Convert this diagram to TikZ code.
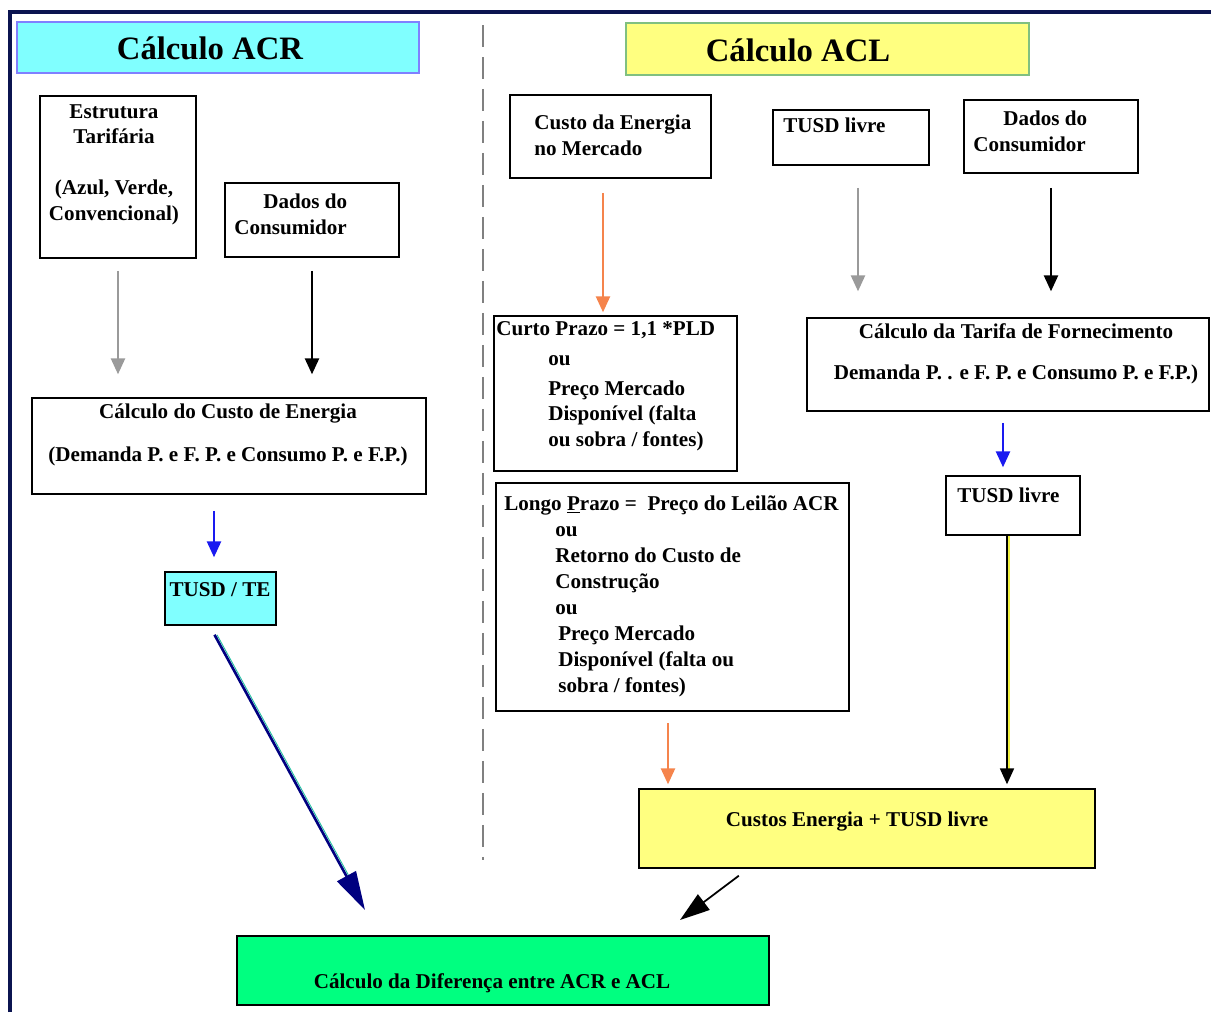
\documentclass[tikz,border=0pt]{standalone}
\usepackage{fontspec}
\setmainfont{Liberation Serif}
\usepackage{tikz}
\usetikzlibrary{
    arrows.meta,
    calc,
    fit
}
\newlength{\pxu}
\setlength{\pxu}{0.02cm}
\definecolor{framenavy}{HTML}{0B1450}
\definecolor{acrcyan}{HTML}{80FFFF}
\definecolor{acrborder}{HTML}{8080FF}
\definecolor{aclyellow}{HTML}{FFFF80}
\definecolor{aclborder}{HTML}{80C080}
\definecolor{diffgreen}{HTML}{00FF80}
\definecolor{arrorange}{HTML}{F5844C}
\definecolor{arrgray}{HTML}{9A9A9A}
\definecolor{arrblue}{HTML}{1A1AF0}
\definecolor{arrnavy}{HTML}{000080}
\definecolor{lineyellow}{HTML}{F0F040}
\definecolor{lineteal}{HTML}{20C0A0}

\begin{document}
\begin{tikzpicture}[x=0.02cm,y=-0.02cm,
    box/.style={draw, line width=0.85pt, inner sep=0},
    txt/.style={inner sep=0, font=\bfseries\fontsize{12}{14.5}\selectfont},
    arr/.style={line width=1.1pt, -{Triangle[length=9pt,width=8pt]}}]

\useasboundingbox (0,0) rectangle (1211,1012);

% Frame
\draw[framenavy, line width=2pt] (10,1012) -- (10,12) -- (1211,12);

% Divider ACR / ACL
\draw[gray, line width=1pt, dash pattern=on 0.44cm off 0.2cm] (483,25) -- (483,860);

% Titles
\node[box, fill=acrcyan, draw=acrborder, line width=1.2pt, fit={(17,22) (419,73)}] (acrBox) {};
\node[txt, font=\bfseries\fontsize{18.6}{20}\selectfont] (acrTitle) at (210,48) {Cálculo ACR};
\node[box, fill=aclyellow, draw=aclborder, line width=1.2pt, fit={(626,23) (1029,75)}] (aclBox) {};
\node[txt, font=\bfseries\fontsize{18.6}{20}\selectfont] (aclTitle) at (798,50) {Cálculo ACL};

% ACR: inputs
\node[box, fit={(40,96) (196,258)}] (estr) {};
\node[txt, anchor=north, align=center] (estrTxt) at (114,104) {Estrutura\\Tarifária\\[14.5pt](Azul, Verde,\\Convencional)};
\node[box, fit={(225,183) (399,257)}] (dadosL) {};
\node[txt, anchor=north west, align=left] (dadosLTxt) at (234,194) {\hspace*{29\pxu}Dados do\\Consumidor};

% ACR: energy cost
\node[box, fit={(32,398) (426,494)}] (custo) {};
\node[txt, anchor=north, align=center] (custoTxt) at (228,403) {Cálculo do Custo de Energia\\[10pt](Demanda P. e F. P. e Consumo P. e F.P.)};

% ACR: TUSD / TE
\node[box, fill=acrcyan, fit={(165,572) (276,625)}] (tusdte) {};
\node[txt, anchor=base] (tusdteTxt) at (220,596) {TUSD / TE};

% ACL: inputs
\node[box, fit={(510,95) (711,178)}] (custoM) {};
\node[txt, anchor=north west, align=left] (custoMTxt) at (534,115) {Custo da Energia\\no Mercado};
\node[box, fit={(773,110) (929,165)}] (tusdA) {};
\node[txt, anchor=base west] (tusdATxt) at (783,132) {TUSD livre};
\node[box, fit={(964,100) (1138,173)}] (dadosR) {};
\node[txt, anchor=north west, align=left] (dadosRTxt) at (973,111) {\hspace*{30\pxu}Dados do\\Consumidor};

% ACL: short term
\node[box, fit={(494,316) (737,471)}] (curto) {};
\node[txt, anchor=north west, align=left] (curtoTxt) at (496,321) {Curto Prazo = 1,1 *PLD\\[2.5pt]
    \hspace*{52\pxu}ou\\[2.5pt]
    \hspace*{52\pxu}Preço Mercado\\
    \hspace*{52\pxu}Disponível (falta\\
    \hspace*{52\pxu}ou sobra / fontes)};

% ACL: long term
\node[box, line width=1.2pt, fit={(496,483) (849,711)}] (longo) {};
\node[txt, anchor=north west, align=left, font=\bfseries\fontsize{12}{14.8}\selectfont] (longoTxt) at (504,495) {Longo \underline{P}razo =\ \ Preço do Leilão ACR\\
    \hspace*{51\pxu}ou\\
    \hspace*{51\pxu}Retorno do Custo de\\
    \hspace*{51\pxu}Construção\\
    \hspace*{51\pxu}ou\\
    \hspace*{54\pxu}Preço Mercado\\
    \hspace*{54\pxu}Disponível (falta ou\\
    \hspace*{54\pxu}sobra / fontes)};

% ACL: supply tariff
\node[box, fit={(807,318) (1209,411)}] (tarifa) {};
\node[txt, anchor=north, align=center] (tarifaTxt) at (1016,323) {Cálculo da Tarifa de Fornecimento\\[9pt]Demanda P. . e F. P. e Consumo P. e F.P.)};
\node[box, fit={(946,476) (1080,535)}] (tusdB) {};
\node[txt, anchor=base west] (tusdBTxt) at (957,502) {TUSD livre};

% ACL: sum
\node[box, fill=aclyellow, fit={(639,789) (1095,868)}] (custos) {};
\node[txt, anchor=base] (custosTxt) at (857,826) {Custos Energia + TUSD livre};

% Difference
\node[box, fill=diffgreen, fit={(237,936) (769,1005)}] (diff) {};
\node[txt, anchor=base] (diffTxt) at (492,988) {Cálculo da Diferença entre ACR e ACL};

% Arrows ACR
\draw[arr, arrgray, shorten <=0.24cm, shorten >=0.46cm] (estr.south) -- (estr.south |- custo.north);
\draw[arr, shorten <=0.26cm, shorten >=0.46cm] (dadosL.south) -- (dadosL.south |- custo.north);
\draw[arr, arrblue, transform canvas={xshift=-0.13cm}, shorten <=0.32cm, shorten >=0.28cm] (tusdte.north |- custo.south) -- (tusdte.north);
\coordinate (navyTip) at (365,910);
\draw[lineteal, line width=0.5pt, transform canvas={xshift=0.05cm}, shorten >=0.8cm] ($(tusdte.south)+(-6,9)$) -- (navyTip);
\draw[arrnavy, line width=1.5pt, -{Triangle[length=22pt,width=12pt]}] ($(tusdte.south)+(-6,9)$) -- (navyTip);

% Arrows ACL
\draw[arr, arrorange, transform canvas={xshift=-0.15cm}, shorten <=0.28cm, shorten >=0.06cm] (custoM.south) -- (custoM.south |- curto.north);
\draw[arr, arrgray, transform canvas={xshift=0.14cm}, shorten <=0.44cm, shorten >=0.52cm] (tusdA.south) -- (tusdA.south |- tarifa.north);
\draw[arr, shorten <=0.28cm, shorten >=0.52cm] (dadosR.south) -- (dadosR.south |- tarifa.north);
\draw[arr, arrblue, transform canvas={xshift=-0.2cm}, shorten <=0.22cm, shorten >=0.16cm] (tarifa.south -| tusdB.north) -- (tusdB.north);
\draw[lineyellow, line width=1.2pt, transform canvas={xshift=-0.08cm}, shorten >=0.3cm] (tusdB.south) -- (tusdB.south |- custos.north);
\draw[arr, line width=0.8pt, transform canvas={xshift=-0.12cm}, shorten >=0.08cm] (tusdB.south) -- (tusdB.south |- custos.north);
\draw[arr, arrorange, transform canvas={xshift=-0.09cm}, shorten <=0.22cm, shorten >=0.08cm] (longo.south) -- (longo.south |- custos.north);

% ACL to difference
\coordinate (aclTip) at (680,920);
\draw[line width=1pt, -{Triangle[length=17pt,width=11pt]}, shorten <=0.23cm] ($(custos.south west)!0.24!(custos.south east)$) -- (aclTip);

\end{tikzpicture}
\end{document}
